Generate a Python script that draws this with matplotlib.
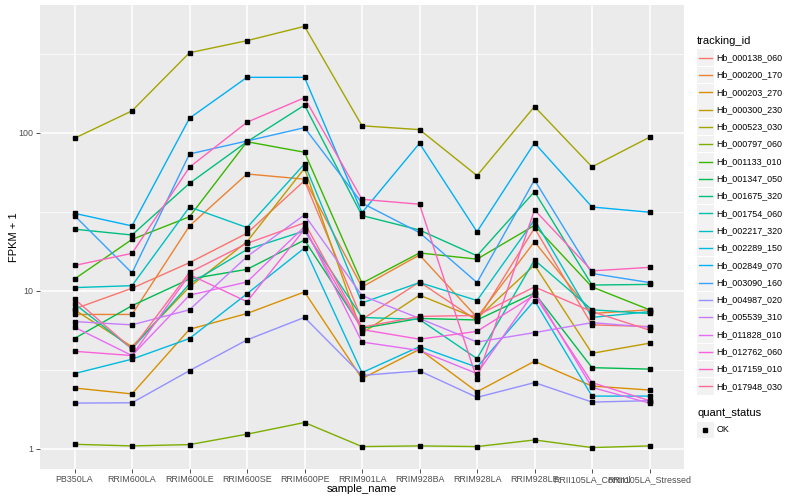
import matplotlib
matplotlib.use("Agg")
import matplotlib.pyplot as plt
from matplotlib.lines import Line2D
from matplotlib.patches import Rectangle

plt.rcParams['font.family'] = ['Liberation Sans', 'DejaVu Sans']

samples = ["PB350LA", "RRIM600LA", "RRIM600LE", "RRIM600SE", "RRIM600PE",
           "RRIM901LA", "RRIM928BA", "RRIM928LA", "RRIM928LE",
           "RRII105LA_Control", "RRII105LA_Stressed"]

tracking_ids = ["Hb_000138_060", "Hb_000200_170", "Hb_000203_270", "Hb_000300_230",
                "Hb_000523_030", "Hb_000797_060", "Hb_001133_010", "Hb_001347_050",
                "Hb_001675_320", "Hb_001754_060", "Hb_002217_320", "Hb_002289_150",
                "Hb_002849_070", "Hb_003090_160", "Hb_004987_020", "Hb_005539_310",
                "Hb_011828_010", "Hb_012762_060", "Hb_017159_010", "Hb_017948_030"]

palette = ["#F8766D", "#EA8331", "#D89000", "#C09B00", "#A3A500", "#7CAE00",
           "#39B600", "#00BB4E", "#00BF7D", "#00C1A3", "#00BFC4", "#00BAE0",
           "#00B0F6", "#35A2FF", "#9590FF", "#C77CFF", "#E76BF3", "#FA62DB",
           "#FF62BC", "#FF6C91"]

# FPKM + 1 values per gene, in sample order
hb_000138_060 = [7.7, 10.4, 15.1, 23.2, 49.9, 6.6, 11.4, 6.5, 25.0, 6.1, 5.95]
hb_000200_170 = [7.1, 7.1, 25.8, 55.0, 51.0, 10.6, 16.9, 6.8, 20.5, 7.2, 7.6]
hb_000203_270 = [2.43, 2.23, 5.72, 7.2, 9.86, 2.79, 4.27, 2.3, 3.59, 2.5, 2.36]
hb_000300_230 = [7.6, 4.44, 10.6, 20.5, 59.7, 5.4, 9.4, 6.7, 14.6, 4.03, 4.67]
hb_000523_030 = [92.6, 138.0, 322.0, 384.0, 473.0, 111.0, 105.0, 53.7, 147.0, 61.0, 94.0]
hb_000797_060 = [1.07, 1.045, 1.065, 1.24, 1.47, 1.035, 1.045, 1.035, 1.14, 1.02, 1.045]
hb_001133_010 = [11.9, 21.2, 29.5, 88.0, 75.5, 11.2, 17.4, 15.9, 26.0, 10.6, 7.6]
hb_001347_050 = [5.0, 8.07, 11.9, 13.7, 21.0, 5.8, 6.7, 6.55, 9.7, 3.27, 3.2]
hb_001675_320 = [24.6, 22.6, 48.0, 88.0, 150.0, 30.0, 24.3, 16.7, 42.5, 10.9, 11.0]
hb_001754_060 = [8.3, 4.3, 11.1, 18.3, 24.0, 6.8, 6.6, 3.73, 15.7, 7.6, 7.2]
hb_002217_320 = [10.5, 10.8, 34.0, 25.2, 63.7, 8.4, 11.3, 8.7, 28.2, 6.8, 7.4]
hb_002289_150 = [3.0, 3.7, 5.0, 9.6, 18.7, 3.04, 4.44, 3.29, 8.7, 2.16, 2.16]
hb_002849_070 = [31.0, 25.8, 124.0, 225.0, 225.0, 31.3, 86.0, 23.7, 86.5, 34.0, 31.5]
hb_003090_160 = [30.0, 13.0, 73.6, 89.0, 108.0, 36.0, 23.4, 11.3, 50.4, 12.9, 11.3]
hb_004987_020 = [1.95, 1.96, 3.13, 4.9, 6.8, 2.92, 3.12, 2.12, 2.63, 1.98, 2.02]
hb_005539_310 = [6.4, 6.1, 7.6, 16.5, 30.3, 9.35, 6.7, 4.75, 5.45, 6.3, 5.9]
hb_011828_010 = [5.9, 3.9, 9.4, 11.4, 25.5, 4.75, 4.2, 3.0, 9.9, 2.45, 1.95]
hb_012762_060 = [4.15, 3.9, 12.7, 8.55, 24.6, 5.7, 4.95, 5.55, 9.4, 2.63, 2.02]
hb_017159_010 = [14.5, 17.3, 60.7, 117.0, 167.0, 38.0, 35.4, 2.76, 32.6, 13.4, 14.1]
hb_017948_030 = [8.9, 4.3, 13.1, 20.0, 27.0, 5.9, 6.9, 7.0, 10.6, 7.4, 5.65]

series = [hb_000138_060, hb_000200_170, hb_000203_270, hb_000300_230, hb_000523_030,
          hb_000797_060, hb_001133_010, hb_001347_050, hb_001675_320, hb_001754_060,
          hb_002217_320, hb_002289_150, hb_002849_070, hb_003090_160, hb_004987_020,
          hb_005539_310, hb_011828_010, hb_012762_060, hb_017159_010, hb_017948_030]

W, H = 800, 500
fig = plt.figure(figsize=(8, 5), dpi=100)
fig.patch.set_facecolor('white')
L, R, T, B = 40, 684, 5, 469
ax = fig.add_axes([L / W, 1 - B / H, (R - L) / W, (B - T) / H])
ax.set_facecolor('#EBEBEB')

xs = list(range(1, len(samples) + 1))
for vals, col in zip(series, palette):
    ax.plot(xs, vals, color=col, lw=1.0, zorder=3)
for vals in series:
    ax.plot(xs, vals, ls='none', marker='s', ms=3.0, color='black', zorder=4)

ax.set_yscale('log')
ax.set_ylim(10 ** -0.127, 10 ** 2.81)
ax.set_xlim(0.4, len(samples) + 0.6)
ax.set_yticks([1, 10, 100])
ax.set_yticklabels(['1', '10', '100'])
ax.set_yticks([10 ** 0.5, 10 ** 1.5, 10 ** 2.5], minor=True)
ax.yaxis.set_minor_formatter(plt.NullFormatter())
ax.set_xticks(xs)
ax.set_xticklabels(samples)
ax.grid(True, which='major', color='white', lw=1.1, zorder=0)
ax.grid(True, which='minor', axis='y', color='white', lw=0.5, zorder=0)
ax.set_axisbelow(True)
for s in ax.spines.values():
    s.set_visible(False)
ax.tick_params(axis='both', which='major', length=3, width=0.6, color='#333333',
               labelsize=6.4, labelcolor='#4D4D4D', pad=1.5)
ax.tick_params(axis='y', which='minor', length=0)
ax.set_xlabel('sample_name', fontsize=8)
ax.set_ylabel('FPKM + 1', fontsize=8)
ax.xaxis.set_label_coords((362 - L) / (R - L), (B - 489) / (B - T))
ax.yaxis.set_label_coords((14 - L) / (R - L), 0.5)
ax.xaxis.label.set_verticalalignment('center')
ax.yaxis.label.set_verticalalignment('center')

# Legend: tracking_id
fig.text(697 / W, 1 - 40.5 / H, 'tracking_id', fontsize=8, va='center', ha='left')
y0, dy = 57.7, 17.3
for i, (name, col) in enumerate(zip(tracking_ids, palette)):
    yc = y0 + i * dy
    fig.add_artist(Rectangle((697 / W, 1 - (yc + 8.3) / H), 16.5 / W, 16.6 / H,
                             transform=fig.transFigure, facecolor='#F2F2F2',
                             edgecolor='none'))
    fig.add_artist(Line2D([699 / W, 711.5 / W], [1 - yc / H, 1 - yc / H],
                          transform=fig.transFigure, color=col, lw=1.0))
    fig.text(716.5 / W, 1 - yc / H, name, fontsize=6.4, va='center', ha='left')

# Legend: quant_status
fig.text(697 / W, 1 - 412.7 / H, 'quant_status', fontsize=8, va='center', ha='left')
yc = 430
fig.add_artist(Rectangle((697 / W, 1 - (yc + 8.3) / H), 16.5 / W, 16.6 / H,
                         transform=fig.transFigure, facecolor='#F2F2F2',
                         edgecolor='none'))
fig.add_artist(Line2D([705.2 / W], [1 - yc / H], transform=fig.transFigure,
                      marker='s', ms=3.0, color='black', ls='none'))
fig.text(716.5 / W, 1 - yc / H, 'OK', fontsize=6.4, va='center', ha='left')

fig.savefig('out.png', dpi=100)
